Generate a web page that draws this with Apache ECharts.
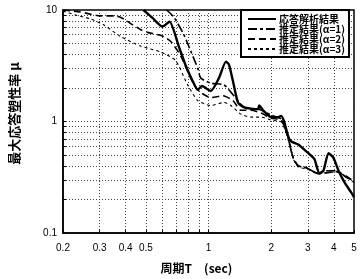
<!DOCTYPE html>
<html><head><meta charset="utf-8">
<script src="https://cdn.jsdelivr.net/npm/echarts@6/dist/echarts.min.js"></script>
<style>html,body{margin:0;padding:0;background:#fff}#c{width:361px;height:279px}</style>
</head><body><div id="c"></div>
<script>
// Data
var seriesNames = ['応答解析結果', '推定結果(α=1)', '推定結果(α=2)', '推定結果(α=3)'];
var xLabelValues = [0.2, 0.3, 0.4, 0.5, 1, 2, 3, 4, 5];
var xGridValues = [0.2, 0.3, 0.4, 0.5, 0.6, 0.7, 0.8, 0.9, 1, 2, 3, 4, 5];
var yLabelValues = [0.1, 1, 10];
var yGridValues = [0.1, 0.2, 0.3, 0.4, 0.5, 0.6, 0.7, 0.8, 0.9, 1, 2, 3, 4, 5, 6, 7, 8, 9, 10];

var periodResp = [0.487, 0.538, 0.601, 0.650, 0.719, 0.777, 0.840, 0.888, 0.929, 1.026, 1.122, 1.213, 1.254, 1.311, 1.386, 1.482, 1.731, 1.75, 1.83, 2.0, 2.162, 2.235, 2.311, 2.416, 2.498, 2.70, 3.018, 3.226, 3.411, 3.567, 3.771, 3.988, 4.214, 4.504, 4.869, 5.0];
var muResp = [10.0, 8.5, 7.1, 7.86, 4.75, 3.18, 2.30, 1.92, 2.08, 1.88, 2.45, 3.44, 3.24, 2.30, 1.48, 1.34, 1.29, 1.39, 1.26, 1.095, 1.095, 1.12, 0.99, 0.732, 0.662, 0.623, 0.52, 0.461, 0.341, 0.362, 0.52, 0.47, 0.362, 0.284, 0.228, 0.21];

var periodA1 = [0.629, 0.68, 0.76, 0.821, 0.888, 0.918, 1.026, 1.186, 1.311, 1.433, 1.549, 1.731, 2.0, 2.235, 2.363, 2.554, 2.7, 2.952, 3.374, 3.567, 4.121, 4.606, 5.0];
var muA1 = [10.0, 8.69, 6.05, 4.30, 2.99, 2.45, 2.21, 2.13, 1.74, 1.42, 1.29, 1.29, 1.14, 1.05, 0.81, 0.47, 0.40, 0.385, 0.341, 0.362, 0.362, 0.315, 0.296];

var periodA2 = [0.2, 0.242, 0.302, 0.357, 0.39, 0.431, 0.471, 0.509, 0.588, 0.657, 0.735, 0.821, 0.898, 1.026, 1.173, 1.311, 1.433, 1.601, 1.79, 2.0, 2.235, 2.39, 2.554, 2.7, 2.952, 3.374, 4.121, 5.0];
var muA2 = [10.0, 9.61, 8.86, 8.86, 8.34, 7.4, 6.69, 6.30, 5.93, 5.25, 3.89, 2.45, 1.88, 1.64, 1.70, 1.54, 1.26, 1.26, 1.19, 1.07, 1.03, 0.762, 0.47, 0.40, 0.385, 0.341, 0.355, 0.29];

var periodA3 = [0.2, 0.2286, 0.27, 0.312, 0.377, 0.471, 0.588, 0.695, 0.794, 0.888, 1.026, 1.186, 1.282, 1.433, 1.601, 1.79, 2.0, 2.235, 2.416, 2.554, 2.7, 2.952, 3.374, 4.121, 5.0];
var muA3 = [9.8, 9.04, 8.34, 7.4, 5.81, 4.75, 4.21, 3.52, 2.13, 1.54, 1.39, 1.48, 1.39, 1.16, 1.095, 1.095, 1.03, 0.99, 0.703, 0.461, 0.39, 0.377, 0.341, 0.355, 0.284];

function pairs(xs, ys) { return xs.map(function (x, i) { return [x, ys[i]]; }); }
function fmt(v) { return String(+(+v).toPrecision(3)); }

var FONT = "'Liberation Sans', 'Noto Sans CJK JP', sans-serif";
var CJK = "'Noto Sans CJK JP', 'Liberation Sans', sans-serif";
var gridLine = { show: true, lineStyle: { color: '#444', width: 1, type: [1, 2] } };

var chart = echarts.init(document.getElementById('c'), null, { renderer: 'canvas' });
chart.setOption({
  animation: false,
  backgroundColor: '#fff',
  color: ['#000', '#000', '#000', '#000'],
  grid: { left: 63, right: 7, top: 10, bottom: 40, show: true, borderColor: '#000', borderWidth: 1.5, backgroundColor: 'transparent' },
  legend: {
    orient: 'vertical', left: 241, top: 10, width: 113,
    padding: [4, 4, 3, 6], itemGap: 0, itemWidth: 28, itemHeight: 10,
    borderColor: '#000', borderWidth: 2, backgroundColor: '#fff',
    itemStyle: { opacity: 0 },
    textStyle: { fontFamily: CJK, fontSize: 10, fontWeight: 'bold', color: '#000', padding: [0, 0, 0, -2] },
    data: seriesNames
  },
  xAxis: {
    type: 'log', logBase: 10, min: 0.2, max: 5,
    name: '周期T　(sec)', nameLocation: 'middle', nameGap: 29,
    nameTextStyle: { fontFamily: CJK, fontSize: 12, fontWeight: 'bold', color: '#000', padding: [0, 24, 0, 0] },
    axisLine: { show: true, lineStyle: { color: '#000', width: 1.5 } },
    axisTick: { show: true, inside: true, length: 3, customValues: xGridValues, lineStyle: { color: '#000' } },
    axisLabel: { customValues: xLabelValues, interval: 0, margin: 10, fontFamily: FONT, fontSize: 10, color: '#000', formatter: fmt },
    splitLine: gridLine,
    minorTick: { show: false }, minorSplitLine: { show: false }
  },
  yAxis: {
    type: 'log', logBase: 10, min: 0.1, max: 10,
    name: '最大応答塑性率 μ', nameLocation: 'middle', nameGap: 42, nameRotate: 90,
    nameTextStyle: { fontFamily: CJK, fontSize: 13, fontWeight: 'bold', color: '#000', padding: [0, 0, 0, 16] },
    axisLine: { show: true, lineStyle: { color: '#000', width: 1.5 } },
    axisTick: { show: true, inside: true, length: 3, customValues: yGridValues, lineStyle: { color: '#000' } },
    axisLabel: { customValues: yLabelValues, margin: 6, fontFamily: FONT, fontSize: 10, color: '#000', formatter: fmt },
    splitLine: gridLine
  },
  series: [
    { name: seriesNames[0], type: 'line', data: pairs(periodResp, muResp), showSymbol: false, symbol: 'none', smooth: 0.2, clip: true,
      itemStyle: { color: '#000' }, lineStyle: { color: '#000', width: 2.4, type: 'solid' } },
    { name: seriesNames[1], type: 'line', data: pairs(periodA1, muA1), showSymbol: false, symbol: 'none', smooth: 0.2, clip: true,
      itemStyle: { color: '#000' }, lineStyle: { color: '#000', width: 1.6, type: [9, 3, 3, 3] } },
    { name: seriesNames[2], type: 'line', data: pairs(periodA2, muA2), showSymbol: false, symbol: 'none', smooth: 0.2, clip: true,
      itemStyle: { color: '#000' }, lineStyle: { color: '#000', width: 1.6, type: [7, 4] } },
    { name: seriesNames[3], type: 'line', data: pairs(periodA3, muA3), showSymbol: false, symbol: 'none', smooth: 0.2, clip: true,
      itemStyle: { color: '#000' }, lineStyle: { color: '#000', width: 1.1, type: [3, 3] } }
  ]
});
</script></body></html>
